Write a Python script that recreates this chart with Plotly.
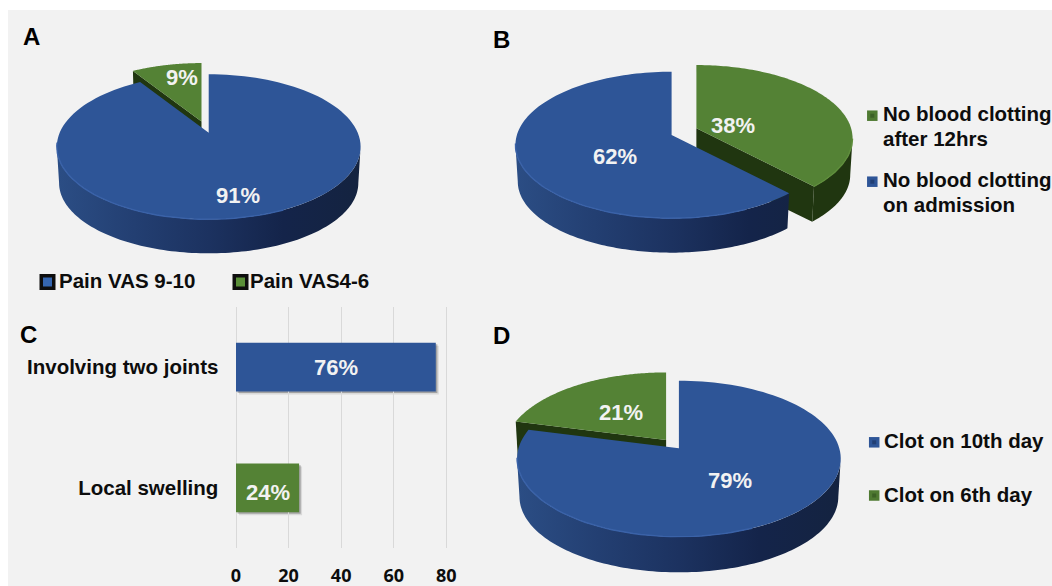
import math
import plotly.graph_objects as go

# Panel A
A_LABELS = ["Pain VAS 9-10", "Pain VAS4-6"]
A_VALUES = [91, 9]
# Panel B
B_LABELS = ["No blood clotting after 12hrs", "No blood clotting on admission"]
B_VALUES = [38, 62]
# Panel C
C_CATEGORIES = ["Involving two joints", "Local swelling"]
C_VALUES = [76, 24]
C_TICKS = [0, 20, 40, 60, 80]
# Panel D
D_LABELS = ["Clot on 10th day", "Clot on 6th day"]
D_VALUES = [79, 21]

W, H = 1052, 586
BLUE, GREEN = "#2e5597", "#548235"
GREEN_WALL = "#203610"
RIM_BLUE, RIM_GREEN = "#3a62a8", "#5f8e3c"
LABEL_WHITE = "#f2f2f2"
BLUE_WALL_SCALE = [[0, "#2b4d84"], [0.25, "#233f72"], [0.5, "#1c3260"],
                   [0.75, "#14244a"], [1, "#142340"]]
FONT = "Liberation Sans"

fig = go.Figure()


def project(theta, spec):
    """Perspective view of a point on the unit circle, clockwise from 12 o'clock."""
    px = math.sin(theta)
    py = math.cos(theta)
    w = 1 + spec["p"] * py
    return spec["a"] * px / w, -spec["b"] * py / w


def top_pt(theta, apex, spec):
    dx, dy = project(theta, spec)
    return apex[0] + dx, apex[1] + dy


def bottom_pt(theta, apex, spec):
    dx, dy = project(theta, spec)
    return apex[0] + dx * 0.985, apex[1] + dy * 0.97 + spec["depth"]


def arc(t0, t1, n=120):
    return [t0 + (t1 - t0) * i / n for i in range(n + 1)]


def polygon(points, color=None, gradient=None):
    xs = [q[0] for q in points] + [points[0][0]]
    ys = [q[1] for q in points] + [points[0][1]]
    args = dict(x=xs, y=ys, mode="lines", fill="toself", line=dict(width=0, simplify=False),
                hoverinfo="skip", showlegend=False, xaxis="x", yaxis="y")
    if gradient:
        args["fillgradient"] = gradient
    else:
        args["fillcolor"] = color
    fig.add_trace(go.Scatter(**args))


def draw_slice(t0, t1, apex, spec, kind):
    thetas = arc(t0, t1)
    tops = [top_pt(t, apex, spec) for t in thetas]
    # the outer wall only shows between the two widest points of the ellipse
    side = math.acos(-spec["p"])
    w0, w1 = max(t0, side), min(t1, 2 * math.pi - side)
    wall = arc(w0, w1) if w1 > w0 else []
    wall_top = [top_pt(t, apex, spec) for t in wall]
    wall_bottom = [bottom_pt(t, apex, spec) for t in wall]
    if kind == "green":
        base = (apex[0], apex[1] + spec["depth"])
        polygon([apex, tops[0], bottom_pt(t0, apex, spec), base], color=GREEN_WALL)
        polygon([apex, tops[-1], bottom_pt(t1, apex, spec), base], color=GREEN_WALL)
        if wall:
            polygon(wall_top + wall_bottom[::-1], color=GREEN_WALL)
        polygon([apex] + tops, color=GREEN)
        rim, lo, hi = RIM_GREEN, 1.7, 2.4
    else:
        grad = dict(type="horizontal", colorscale=BLUE_WALL_SCALE,
                    start=apex[0] - spec["a"], stop=apex[0] + spec["a"])
        polygon(wall_top + wall_bottom[::-1], gradient=grad)
        polygon([apex] + tops, color=BLUE)
        rim, lo, hi = RIM_BLUE, 2.7, 4.62
    # light bevel along the front edge of the top face
    front = [q for t, q in zip(thetas, tops) if lo < t < hi]
    if front:
        fig.add_trace(go.Scatter(x=[q[0] for q in front], y=[q[1] for q in front],
                                 mode="lines", line=dict(color=rim, width=1.4),
                                 hoverinfo="skip", showlegend=False))


def draw_pie(values, kinds, apexes, spec):
    total = sum(values)
    start = 0.0
    spans = []
    for v in values:
        end = start + 2 * math.pi * v / total
        spans.append((start, end))
        start = end
    order = sorted(range(len(values)), key=lambda i: kinds[i] != "green")
    for i in order:
        draw_slice(spans[i][0], spans[i][1], apexes[i], spec, kinds[i])


SPEC_A = dict(a=149, b=69.8, p=0.1945, depth=36.6)
SPEC_B = dict(a=154.7, b=71.9, p=0.1364, depth=36.9)
SPEC_D = dict(a=160.4, b=76.6, p=0.1335, depth=38.3)

draw_pie(A_VALUES, ["blue", "green"], [(208.7, 132.7), (201.5, 121.5)], SPEC_A)
draw_pie(B_VALUES, ["green", "blue"], [(696.4, 128.3), (671.6, 135)], SPEC_B)
draw_pie(D_VALUES, ["blue", "green"], [(678.9, 448.3), (666.1, 440)], SPEC_D)


def text(x, y, s, size=20.5, color="#0d0d0d", anchor="left", family=FONT):
    fig.add_annotation(x=x, y=y - 1, text=f"<b>{s}</b>", showarrow=False, xref="x", yref="y",
                       xanchor=anchor, yanchor="middle", borderpad=0, borderwidth=0,
                       font=dict(family=family, size=size, color=color))


def swatch(x, y, outer, inner, size_out, size_in):
    fig.add_trace(go.Scatter(x=[x], y=[y], mode="markers", hoverinfo="skip", showlegend=False,
                             marker=dict(symbol="square", size=size_out, color=outer,
                                         line=dict(width=0))))
    fig.add_trace(go.Scatter(x=[x], y=[y], mode="markers", hoverinfo="skip", showlegend=False,
                             marker=dict(symbol="square", size=size_in, color=inner,
                                         line=dict(width=0))))


# Panel letters
for letter, lx, ly in [("A", 31, 37.5), ("B", 501, 40.5), ("C", 28, 335), ("D", 501, 336)]:
    text(lx, ly, letter, size=24, color="#000000", anchor="center")

# Value labels on the pies
for value, lx, ly in [(A_VALUES[0], 237.7, 196.7), (A_VALUES[1], 182, 78.3),
                      (B_VALUES[0], 732.6, 126), (B_VALUES[1], 615, 157),
                      (D_VALUES[0], 730.4, 481), (D_VALUES[1], 621.2, 413.3)]:
    text(lx, ly, f"{value}%", size=22, color=LABEL_WHITE, anchor="center")

# Legend of panel A
swatch(47.5, 282, "#0e0e0e", "#3566b0", 16, 9)
text(58.5, 281, A_LABELS[0])
swatch(240.5, 282, "#0e0e0e", "#5a8f38", 16, 9)
text(250, 281, A_LABELS[1])

# Legend of panel B, one name over two lines
swatch(872.3, 115.7, "#4f7a32", "#3c6126", 10.5, 4)
text(883, 114.3, "No blood clotting")
text(883, 139, "after 12hrs")
swatch(872.3, 181.7, "#2e5597", "#213f74", 10.5, 4)
text(883, 180.7, "No blood clotting")
text(883, 205, "on admission")

# Legend of panel D
swatch(874.2, 442.3, "#2e5597", "#213f74", 10.5, 4)
text(884.4, 441, D_LABELS[0])
swatch(874.2, 495.5, "#4f7a32", "#3c6126", 10.5, 4)
text(884.4, 495, D_LABELS[1])

# Panel C: horizontal bars
BAR_HALF = 0.2015
PX_ZERO = 236.0
PX_PER_UNIT = (446.3 - PX_ZERO) / 80
PX_PER_BAND = (548.3 - 306.7) / 2
X2_RANGE = [-1, 81]
shapes = [dict(type="rect", xref="x", yref="y", x0=8, x1=W, y0=10, y1=H,
               fillcolor="#f2f2f2", line=dict(width=0), layer="below")]
for i, v in enumerate(C_VALUES):
    for off, alpha in [(3.0, 0.10), (1.6, 0.25)]:
        shapes.append(dict(type="rect", xref="x2", yref="y2", layer="below",
                           x0=off / PX_PER_UNIT, x1=v + off / PX_PER_UNIT,
                           y0=i - BAR_HALF + off / PX_PER_BAND,
                           y1=i + BAR_HALF + off / PX_PER_BAND,
                           fillcolor=f"rgba(0,0,0,{alpha})", line=dict(width=0)))

fig.add_trace(go.Bar(y=C_CATEGORIES, x=C_VALUES, orientation="h", xaxis="x2", yaxis="y2",
                     marker=dict(color=[BLUE, GREEN], line=dict(width=0)),
                     width=2 * BAR_HALF, hoverinfo="skip", showlegend=False))
for i, (v, shift) in enumerate(zip(C_VALUES, [0, -5])):
    fig.add_annotation(x=v / 2, y=i, xref="x2", yref="y2", yshift=shift, showarrow=False,
                       text=f"<b>{v}%</b>",
                       font=dict(family=FONT, size=22, color=LABEL_WHITE))

fig.update_layout(
    width=W, height=H, autosize=False,
    margin=dict(l=0, r=0, t=0, b=0, pad=0, autoexpand=False),
    paper_bgcolor="#ffffff", plot_bgcolor="rgba(0,0,0,0)", showlegend=False, shapes=shapes,
    xaxis=dict(range=[0, W], domain=[0, 1], visible=False, fixedrange=True, automargin=False),
    yaxis=dict(range=[H, 0], domain=[0, 1], visible=False, fixedrange=True, automargin=False),
    xaxis2=dict(domain=[(PX_ZERO + X2_RANGE[0] * PX_PER_UNIT) / W,
                        (PX_ZERO + X2_RANGE[1] * PX_PER_UNIT) / W],
                range=X2_RANGE, anchor="y2", automargin=False,
                tickvals=C_TICKS, showgrid=True, gridcolor="#d9d9d9", gridwidth=1.3,
                zeroline=False, showline=False, ticks="", ticklabelstandoff=15,
                tickfont=dict(family="Open Sans", size=18, color="#0d0d0d", weight="bold")),
    yaxis2=dict(domain=[1 - 548.3 / H, 1 - 306.7 / H], range=[1.5, -0.5], anchor="x2",
                type="category", categoryorder="array", categoryarray=C_CATEGORIES,
                automargin=False, showgrid=False, zeroline=False, showline=False, ticks="",
                ticklabelstandoff=14,
                tickfont=dict(family=FONT, size=20.5, color="#0d0d0d", weight="bold")),
)

fig.write_html("out.html")
